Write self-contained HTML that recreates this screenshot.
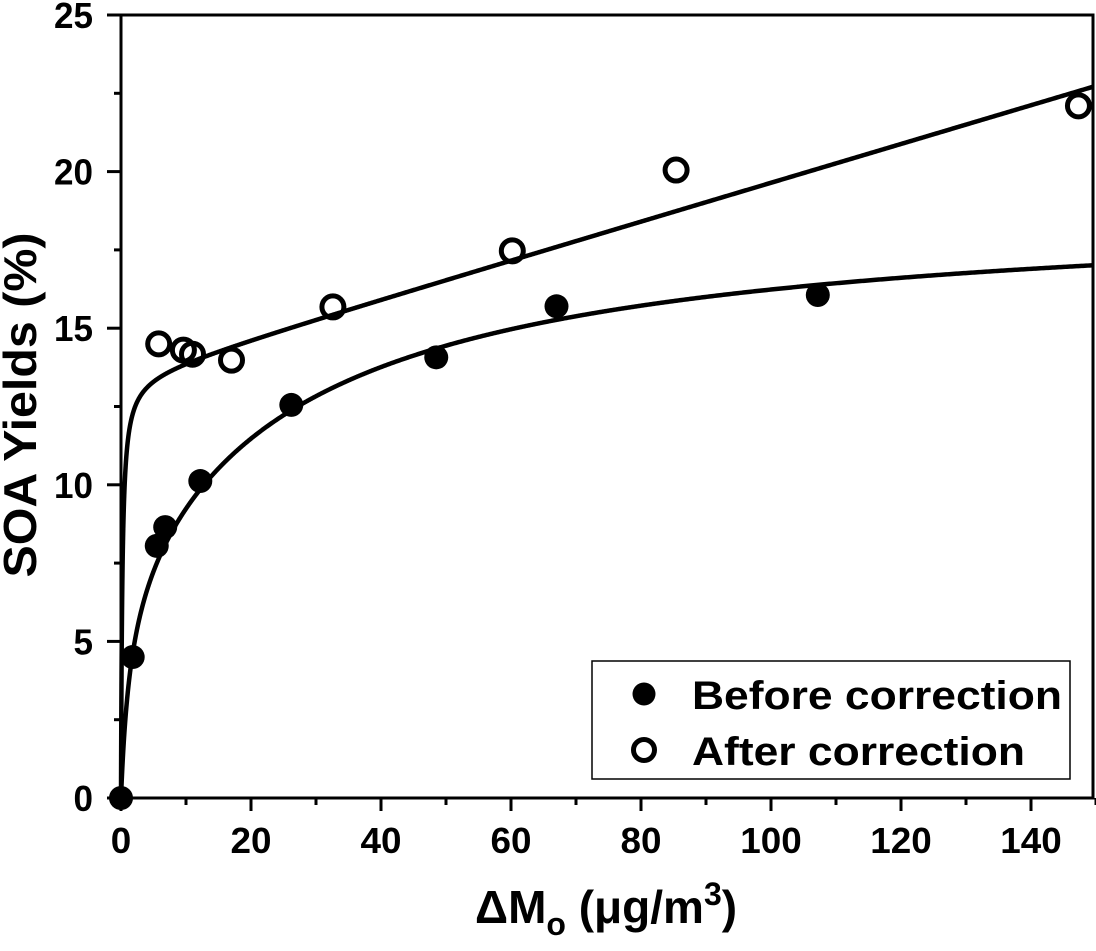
<!DOCTYPE html>
<html><head><meta charset="utf-8"><style>
body{margin:0;background:#fff;}
svg text{font-family:"Liberation Sans",Arial,sans-serif;font-weight:bold;fill:#000;}
</style></head><body>
<svg id="chart" width="1096" height="946" viewBox="0 0 1096 946" xmlns="http://www.w3.org/2000/svg">
<g id="axes"></g>
<g id="curves"></g>
<g id="points"></g>
<text transform="translate(36,405) rotate(-90)" text-anchor="middle" font-size="46" textLength="345" lengthAdjust="spacingAndGlyphs">SOA Yields (%)</text>
<text x="475" y="923" font-size="46">ΔM<tspan font-size="32" dy="12">o</tspan><tspan dy="-12"> (μg/m</tspan><tspan font-size="32" dy="-18">3</tspan><tspan dy="18">)</tspan></text>
<g>
<rect x="592" y="661" width="478" height="118" fill="#fff" stroke="#000" stroke-width="1.5"/>
<circle cx="644" cy="694" r="11.5" fill="#000"/>
<text x="692" y="709" font-size="40" textLength="370" lengthAdjust="spacingAndGlyphs">Before correction</text>
<circle cx="644" cy="750" r="10.5" fill="#fff" stroke="#000" stroke-width="5"/>
<text x="692" y="765" font-size="40" textLength="333" lengthAdjust="spacingAndGlyphs">After correction</text>
</g>
</svg>
<script>
const beforeX=[0,1.8,5.5,6.8,12.2,26.2,48.5,67.0,107.2];
const beforeY=[0,4.5,8.05,8.65,10.12,12.55,14.07,15.7,16.06];
const afterX=[5.8,9.6,11.0,17.0,32.6,60.2,85.4,147.3];
const afterY=[14.5,14.3,14.17,13.98,15.68,17.47,20.05,22.1];
const xTicks=[0,20,40,60,80,100,120,140];
const yTicks=[0,5,10,15,20,25];
const NS="http://www.w3.org/2000/svg";
const X0=121,Y0=798,XS=6.5,YS=31.32,XR=1093,YT=15;
const sx=v=>X0+v*XS, sy=v=>Y0-v*YS;
function mk(tag,attrs,parent){const e=document.createElementNS(NS,tag);for(const k in attrs)e.setAttribute(k,attrs[k]);parent.appendChild(e);return e;}
const ax=document.getElementById('axes');
let p;
p=mk('path',{d:`M${X0},${YT}V${Y0}H${XR}V${YT}H${X0-14}`,fill:'none',stroke:'#000','stroke-width':3},ax);


for(let v=0;v<=150;v+=10){
  const maj=v%20===0;
  const t=mk('line',{x1:sx(v),x2:sx(v),y1:Y0,y2:Y0+(maj?13:7),stroke:'#000','stroke-width':3},ax);
  
  
}
xTicks.forEach(v=>{const s=String(v);const t=mk('text',{x:sx(v),y:853,'text-anchor':'middle','font-size':36,textLength:s.length*20.5,lengthAdjust:'spacingAndGlyphs'},ax);t.textContent=s;
  
  });
for(let v=0;v<=25;v+=2.5){
  const maj=v%5===0;
  const t=mk('line',{x1:X0-(maj?14:7),x2:X0,y1:sy(v),y2:sy(v),stroke:'#000','stroke-width':3},ax);
  
  
}
yTicks.forEach(v=>{const s=String(v);const t=mk('text',{x:93,y:sy(v)+13,'text-anchor':'end','font-size':36,textLength:s.length*19.5,lengthAdjust:'spacingAndGlyphs'},ax);t.textContent=s;
  
  });
const cg=document.getElementById('curves');
const fBefore=m=>7*0.7*m/(1+0.7*m)+12*0.035*m/(1+0.035*m);
const fAfter=m=>13.5*5*m/(1+5*m)+0.0617*m;
function curve(f,name){let d='';for(let i=0;i<=1500;i++){const m=149.5*Math.pow(i/1500,2.5);d+=(i?'L':'M')+sx(m).toFixed(2)+','+sy(f(m)).toFixed(2);}
  const c=mk('path',{d:d,fill:'none',stroke:'#000','stroke-width':4.5},cg);
  
  }
curve(fBefore,'fit-curve-before');
curve(fAfter,'fit-curve-after');
const pg=document.getElementById('points');
beforeX.forEach((x,i)=>{const c=mk('circle',{cx:sx(x),cy:sy(beforeY[i]),r:12,fill:'#000'},pg);
  
  });
afterX.forEach((x,i)=>{const c=mk('circle',{cx:sx(x),cy:sy(afterY[i]),r:11,fill:'none',stroke:'#000','stroke-width':5},pg);
  
  });
</script>
</body></html>
